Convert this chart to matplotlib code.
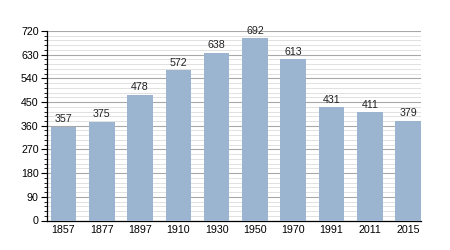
import numpy as np
import matplotlib
matplotlib.use('Agg')
import matplotlib.pyplot as plt
from matplotlib.ticker import MultipleLocator

# Données : population par année de recensement
annees = ['1857', '1877', '1897', '1910', '1930', '1950', '1970', '1991', '2011', '2015']
population = [357, 375, 478, 572, 638, 692, 613, 431, 411, 379]

plt.rcParams['font.family'] = ['Liberation Sans', 'DejaVu Sans']

fig = plt.figure(figsize=(4.5, 2.5), dpi=100)
ax = fig.add_axes([47 / 450, 1 - 220.5 / 250, 374 / 450, 189.5 / 250])

x = np.arange(len(annees))
barres = ax.bar(x, population, width=0.67, color='#9bb4cf', zorder=3)

for xi, v in zip(x, population):
    ax.text(xi, v + 9, str(v), ha='center', va='bottom', fontsize=7.7, color='#222222', zorder=4)

ax.set_xlim(-0.43, 9.335)
ax.set_ylim(0, 720)
ax.set_xticks(x)
ax.set_xticklabels(annees, fontsize=7.7)
ax.yaxis.set_major_locator(MultipleLocator(90))
ax.yaxis.set_minor_locator(MultipleLocator(18))
ax.tick_params(axis='y', labelsize=7.7, length=4, width=0.8, pad=2)
ax.tick_params(axis='y', which='minor', length=2, width=0.6)
ax.tick_params(axis='x', length=0, pad=3)

ax.grid(axis='y', which='major', color='#a8a8a8', linewidth=0.8, zorder=1)
ax.grid(axis='y', which='minor', color='#dcdcdc', linewidth=0.6, zorder=1)
ax.set_axisbelow(True)

for s in ['top', 'right']:
    ax.spines[s].set_visible(False)
ax.spines['left'].set_linewidth(0.9)
ax.spines['bottom'].set_linewidth(0.9)

fig.savefig('out.png', dpi=100)
